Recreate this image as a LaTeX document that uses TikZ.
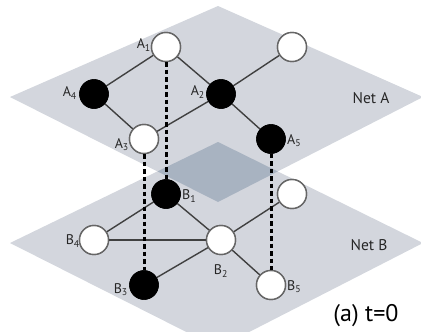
\documentclass[tikz,border=0pt]{standalone}
\usepackage{fontspec}
\setmainfont{PT Sans}
\definecolor{planegray}{HTML}{D3D6DD}
\definecolor{overlapgray}{HTML}{A8B3C1}
\definecolor{linkgray}{HTML}{404040}
\definecolor{ringgray}{HTML}{666666}
\definecolor{labgray}{HTML}{262626}
\begin{document}
\begin{tikzpicture}[x=1pt,y=-1pt,
  link/.style={draw=linkgray, line width=1.4pt},
  wnode/.style={circle, draw=ringgray, line width=1.4pt, fill=white, minimum size=29pt, inner sep=0pt},
  bnode/.style={circle, draw=black, fill=black, minimum size=29pt, inner sep=0pt},
  couple/.style={draw=black, line width=3pt, dash pattern=on 4.5pt off 3pt},
  lab/.style={font=\fontsize{14}{16}\selectfont, text=labgray, inner sep=0pt},
  netlab/.style={font=\fontsize{15.5}{18}\selectfont, text=labgray, inner sep=0pt},
  ]
\useasboundingbox (0,0) rectangle (421,332);
\clip (0,0) rectangle (421,332);

% the two planes and their overlap
\fill[planegray] (10,243) -- (218,142) -- (423,243) -- (218,348) -- cycle;
\fill[planegray] (10,97) -- (218,6) -- (423,97) -- (218,202) -- cycle;
\begin{scope}
  \clip (10,243) -- (218,142) -- (423,243) -- (218,348) -- cycle;
  \fill[overlapgray] (10,97) -- (218,6) -- (423,97) -- (218,202) -- cycle;
\end{scope}

% Net B
\node[bnode] (b1) at (166,194) {};
\node[wnode] (b6) at (292,194) {};
\node[wnode] (b4) at (94,240) {};
\node[wnode] (b2) at (221,240) {};
\node[bnode] (b3) at (144,285) {};
\node[wnode] (b5) at (271,285) {};
\draw[link] (b1) -- (b4);
\draw[link] (b4) -- (b2);
\draw[link] (b1) -- (b2);
\draw[link] (b2) -- (b6);
\draw[link] (b2) -- (b3);
\draw[link] (b2) -- (b5);
\foreach \n in {b1,b3}{\node[bnode] at (\n) {};}
\foreach \n in {b2,b4,b5,b6}{\node[wnode] at (\n) {};}

% Net A
\node[wnode] (a1) at (166,47) {};
\node[wnode] (a6) at (292,47) {};
\node[bnode] (a4) at (94,94) {};
\node[bnode] (a2) at (221,94) {};
\node[wnode] (a3) at (144,139) {};
\node[bnode] (a5) at (271,139) {};
\draw[link] (a4) -- (a1);
\draw[link] (a1) -- (a2);
\draw[link] (a2) -- (a6);
\draw[link] (a4) -- (a3);
\draw[link] (a3) -- (a2);
\draw[link] (a2) -- (a5);
\foreach \n in {a2,a4,a5}{\node[bnode] at (\n) {};}
\foreach \n in {a1,a3,a6}{\node[wnode] at (\n) {};}

% interdependency links between the nets
\draw[couple] (a1.south) -- (b1.north);
\draw[couple] (a3.south) -- (b3.north);
\draw[couple] (a5.south) -- (b5.north);

% labels
\node[lab, anchor=east] (la1) at (151,45) {A\textsubscript{1}};
\node[lab, anchor=east] (la4) at (77,93) {A\textsubscript{4}};
\node[lab, anchor=east] (la2) at (205,92) {A\textsubscript{2}};
\node[lab, anchor=east] (la3) at (129,145) {A\textsubscript{3}};
\node[lab, anchor=west] (la5) at (287,141) {A\textsubscript{5}};
\node[lab, anchor=west] (lb1) at (182,196) {B\textsubscript{1}};
\node[lab, anchor=east] (lb4) at (80,241) {B\textsubscript{4}};
\node[lab] (lb2) at (221,271) {B\textsubscript{2}};
\node[lab, anchor=east] (lb3) at (128,290) {B\textsubscript{3}};
\node[lab, anchor=west] (lb5) at (287,287) {B\textsubscript{5}};
\node[netlab] (neta) at (371,98) {Net A};
\node[netlab] (netb) at (369,245) {Net B};
\node[font=\fontsize{24}{27}\selectfont, text=black, inner sep=0pt] (cap) at (366,316) {(a) t=0};
\end{tikzpicture}
\end{document}
